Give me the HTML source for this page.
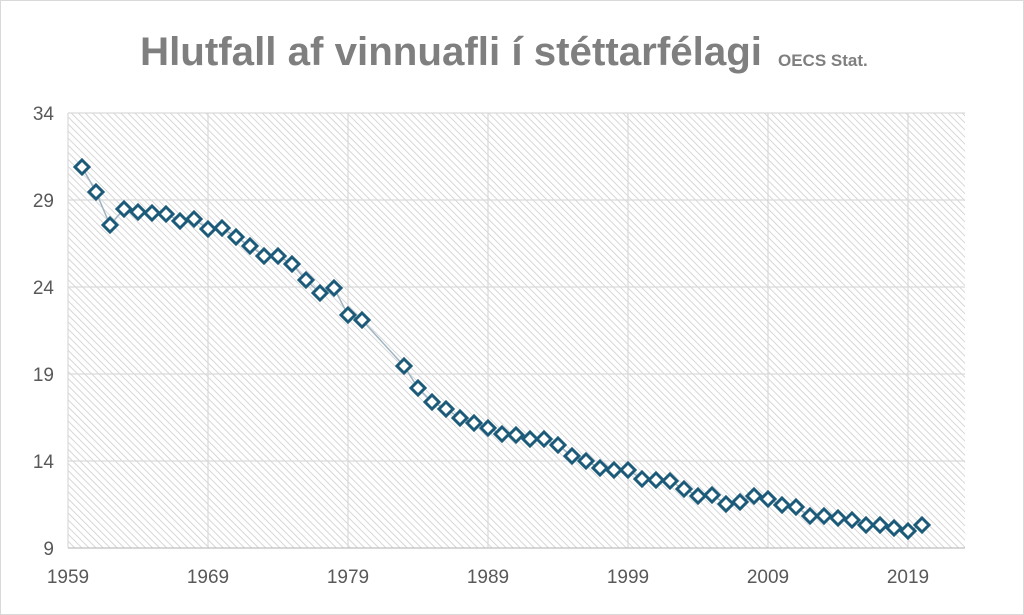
<!DOCTYPE html>
<html><head><meta charset="utf-8"><style>
html,body{margin:0;padding:0;background:#fff;}
svg{display:block;font-family:"Liberation Sans",sans-serif;}
</style></head><body>
<svg width="1024" height="615" viewBox="0 0 1024 615">
<defs>
<pattern id="h" width="5" height="5" patternUnits="userSpaceOnUse" patternTransform="rotate(-45)">
<rect width="5" height="5" fill="#fff"/>
<line x1="0" y1="0" x2="0" y2="5" stroke="#d0d0d0" stroke-width="1.7"/>
</pattern>
<marker id="m" markerWidth="20" markerHeight="20" refX="10" refY="10" markerUnits="userSpaceOnUse">
<polygon points="10,3 17,10 10,17 3,10" fill="#fff" stroke="#1c5a7a" stroke-width="3"/>
</marker>
</defs>
<rect x="0.5" y="0.5" width="1023" height="614" fill="#fff" stroke="#d9d9d9"/>
<text x="140" y="65" font-size="40" font-weight="bold" fill="#7f7f7f" textLength="622" lengthAdjust="spacingAndGlyphs">Hlutfall af vinnuafli í stéttarfélagi</text>
<text x="778" y="66" font-size="17" font-weight="bold" fill="#7f7f7f">OECS Stat.</text>
<rect x="68" y="113" width="897" height="435" fill="url(#h)"/>
<g stroke="#d9d9d9" stroke-width="1.2">
<line x1="68" y1="113" x2="965" y2="113"/><line x1="68" y1="200" x2="965" y2="200"/>
<line x1="68" y1="287" x2="965" y2="287"/><line x1="68" y1="374" x2="965" y2="374"/>
<line x1="68" y1="461" x2="965" y2="461"/>
<line x1="68" y1="113" x2="68" y2="548"/><line x1="208" y1="113" x2="208" y2="548"/>
<line x1="348" y1="113" x2="348" y2="548"/><line x1="488" y1="113" x2="488" y2="548"/>
<line x1="628" y1="113" x2="628" y2="548"/><line x1="768" y1="113" x2="768" y2="548"/>
<line x1="908" y1="113" x2="908" y2="548"/>
</g>
<line x1="68" y1="548" x2="965" y2="548" stroke="#bfbfbf" stroke-width="1.2"/>
<g font-size="19" fill="#595959" text-anchor="end">
<text x="54" y="120">34</text><text x="54" y="207">29</text><text x="54" y="294">24</text>
<text x="54" y="381">19</text><text x="54" y="468">14</text><text x="54" y="555">9</text>
</g>
<g font-size="19" fill="#595959" text-anchor="middle">
<text x="68" y="583">1959</text><text x="208" y="583">1969</text><text x="348" y="583">1979</text>
<text x="488" y="583">1989</text><text x="628" y="583">1999</text><text x="768" y="583">2009</text>
<text x="908" y="583">2019</text>
</g>
<polyline fill="none" stroke="#9fb4c2" stroke-width="1.5" marker-start="url(#m)" marker-mid="url(#m)" marker-end="url(#m)"
points="82,167 96,192 110,225 124,209 138,212 152,213 166,214 180,221 194,219 208,229 222,228 236,237 250,246 264,256 278,256 292,264 306,280 320,293 334,288 348,315 362,320 404,366 418,388 432,402 446,409 460,418 474,423 488,428 502,434 516,435 530,439 544,439 558,445 572,456 586,461 600,468 614,470 628,470 642,479 656,480 670,481 684,489 698,496 712,495 726,504 740,502 754,496 768,499 782,505 796,507 810,516 824,516 838,518 852,520 866,525 880,525 894,528 908,531 922,525"/>
</svg>
</body></html>
